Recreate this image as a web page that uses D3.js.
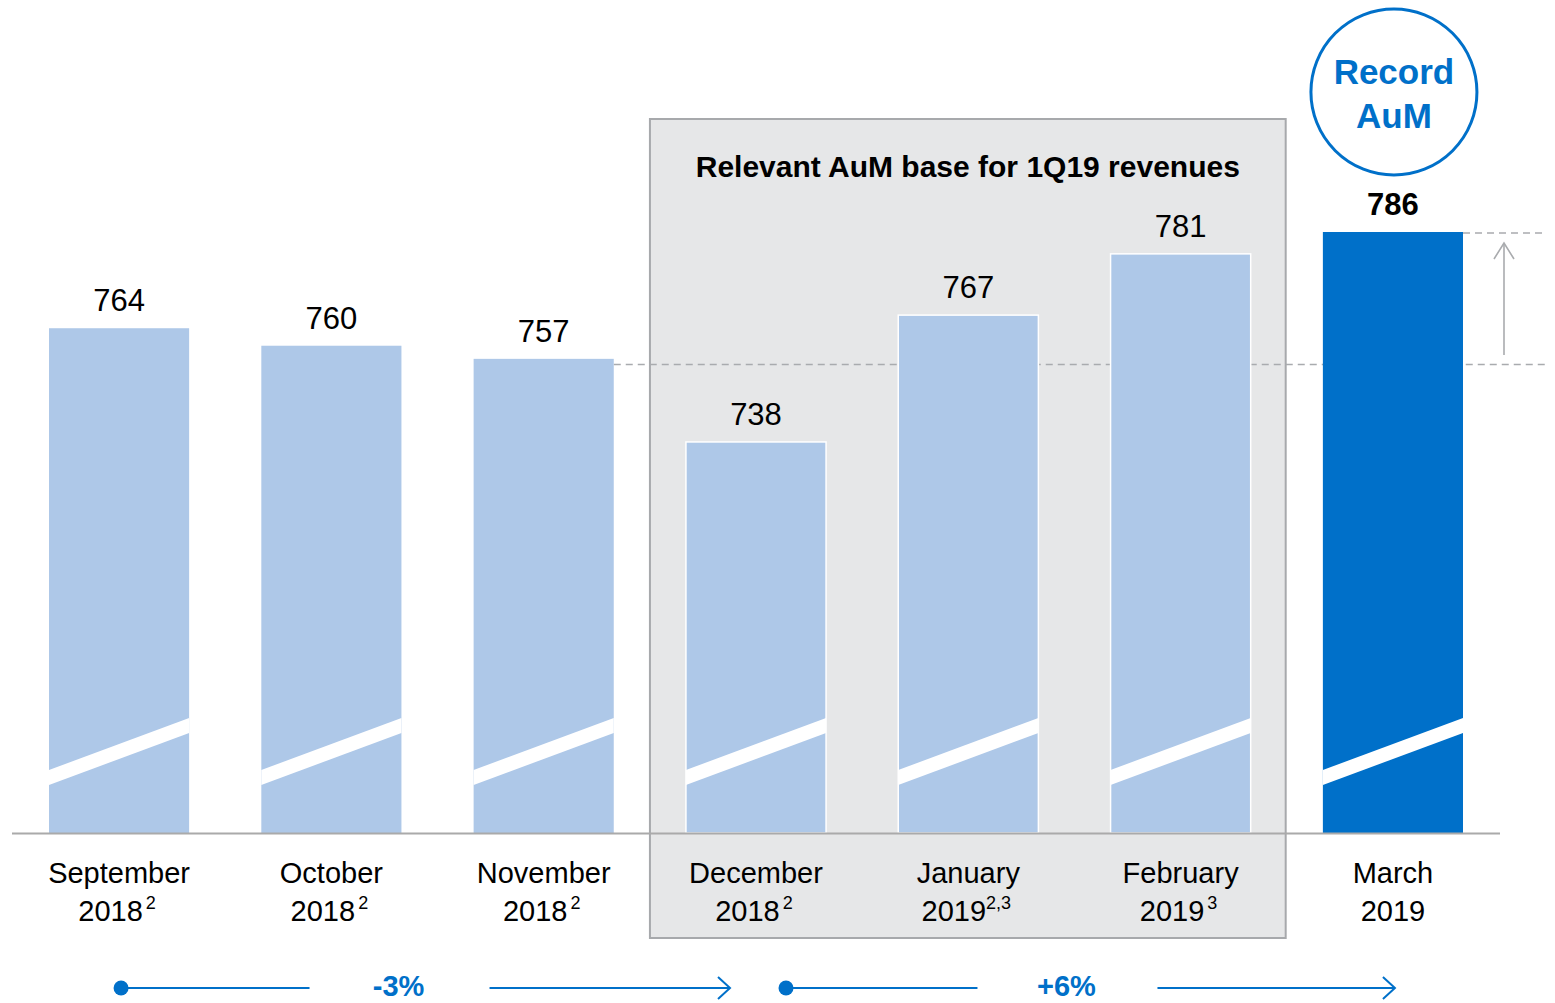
<!DOCTYPE html>
<html><head><meta charset="utf-8">
<script src="https://cdn.jsdelivr.net/npm/d3@7"></script>
<style>body{margin:0;background:#fff}svg{display:block;font-family:"Liberation Sans",Arial,sans-serif}</style>
</head><body><svg id="c" width="1555" height="1003"></svg>
<script>
const months = ["September","October","November","December","January","February","March"];
const years = ["2018","2018","2018","2018","2019","2019","2019"];
const notes = ["2","2","2","2","2,3","3",""];
const values = [764,760,757,738,767,781,786];
const highlight = [false,false,false,false,false,false,true];
const boxTitle = "Relevant AuM base for 1Q19 revenues";
const changes = [{from:0,to:3,label:"-3%"},{from:3,to:6,label:"+6%"}];

const svg = d3.select("#c");
const blue = "#0070c9", light = "#aec8e8", grey = "#a9abae";
const x = d3.scaleBand().domain(months).range([49, 1463]).paddingInner(0.34).paddingOuter(0);
const y = d3.scaleLinear().domain([648.6, 786]).range([833, 232]);
const bw = x.bandwidth();
const cx = m => x(m) + bw/2;

// grey box
const bx0 = x("December") - 36, bx1 = x("February") + bw + 35;
svg.append("rect").attr("x", bx0).attr("y",119).attr("width", bx1-bx0).attr("height", 819)
  .attr("fill","#e6e7e8").attr("stroke","#a7a9ac").attr("stroke-width",2);
svg.append("text").attr("x",(bx0+bx1)/2).attr("y",177).attr("text-anchor","middle")
  .attr("font-weight","bold").attr("font-size",30).attr("fill","#000").text(boxTitle);

// dashed reference lines
const yMax = y(values[6]);
svg.append("line").attr("x1", x("November")+bw).attr("x2",1545).attr("y1",364.5).attr("y2",364.5)
  .attr("stroke",grey).attr("stroke-width",1.6).attr("stroke-dasharray","7,5");
svg.append("line").attr("x1", x("March")+bw).attr("x2",1545).attr("y1",yMax+1).attr("y2",yMax+1)
  .attr("stroke",grey).attr("stroke-width",1.6).attr("stroke-dasharray","7,5");
svg.append("line").attr("x1",1504).attr("x2",1504).attr("y1",355).attr("y2",yMax+12)
  .attr("stroke",grey).attr("stroke-width",1.6);
svg.append("path").attr("d",`M1494,${yMax+27}L1504,${yMax+11}L1514,${yMax+27}`)
  .attr("fill","none").attr("stroke",grey).attr("stroke-width",1.6);

// bars
months.forEach((m,i)=>{
  const inBox = i>=3 && i<=5;
  svg.append("rect").attr("x",x(m)).attr("y",y(values[i])).attr("width",bw).attr("height",833-y(values[i]))
    .attr("fill", highlight[i]?blue:light)
    .attr("stroke", inBox?"#fff":"none").attr("stroke-width",1.5);
  const x0 = x(m), x1 = x(m)+bw;
  svg.append("path").attr("d",`M${x0},${770}L${x1},${718}L${x1},${733}L${x0},${785}Z`).attr("fill","#fff");
  svg.append("text").attr("x",cx(m)).attr("y",y(values[i])-17).attr("text-anchor","middle")
    .attr("font-size",31).attr("font-weight",highlight[i]?"bold":"normal").attr("fill","#000").text(values[i]);
  svg.append("text").attr("x",cx(m)).attr("y",883).attr("text-anchor","middle").attr("font-size",29).text(m);
  const t = svg.append("text").attr("x",cx(m)+(notes[i]?-2:0)).attr("y",921).attr("text-anchor","middle").attr("font-size",29);
  t.append("tspan").text(years[i]);
  if (notes[i]) {
    t.append("tspan").attr("font-size",18).attr("dy",-12).attr("dx",notes[i].length>1?0:3).text(notes[i]);
  }
});

// baseline
svg.append("line").attr("x1",12).attr("x2",1500).attr("y1",833.5).attr("y2",833.5).attr("stroke","#aaa").attr("stroke-width",2);

// record circle
svg.append("circle").attr("cx",cx("March")+1).attr("cy",92).attr("r",83).attr("fill","#fff").attr("stroke",blue).attr("stroke-width",3);
svg.append("text").attr("x",cx("March")+1).attr("y",84).attr("text-anchor","middle").attr("font-weight","bold").attr("font-size",35).attr("fill",blue).text("Record");
svg.append("text").attr("x",cx("March")+1).attr("y",128).attr("text-anchor","middle").attr("font-weight","bold").attr("font-size",35).attr("fill",blue).text("AuM");

// change arrows (layout offsets per arrow)
const arrowLayout = [{dot:2, tip:-26, mid:-27},{dot:30, tip:2, mid:-24}];
changes.forEach((c,k)=>{
  const L = arrowLayout[k];
  const xa = cx(months[c.from]) + L.dot, xb = cx(months[c.to]) + L.tip;
  const mid = (xa+xb)/2 + L.mid;
  const yy = 988;
  svg.append("circle").attr("cx",xa).attr("cy",yy).attr("r",7.5).attr("fill",blue);
  svg.append("line").attr("x1",xa).attr("x2",mid-89).attr("y1",yy).attr("y2",yy).attr("stroke",blue).attr("stroke-width",2);
  svg.append("line").attr("x1",mid+91).attr("x2",xb).attr("y1",yy).attr("y2",yy).attr("stroke",blue).attr("stroke-width",2);
  svg.append("path").attr("d",`M${xb-12},${yy-11}L${xb},${yy}L${xb-12},${yy+11}`).attr("fill","none").attr("stroke",blue).attr("stroke-width",2);
  svg.append("text").attr("x",mid).attr("y",996).attr("text-anchor","middle").attr("font-weight","bold").attr("font-size",29).attr("fill",blue).text(c.label);
});
</script></body></html>
